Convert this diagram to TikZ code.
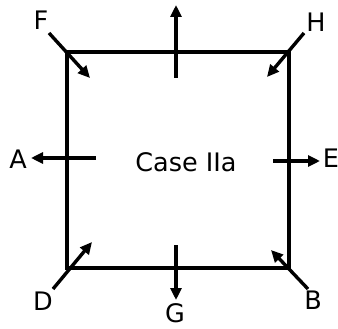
\documentclass[tikz,border=0pt]{standalone}
\usepackage{fontspec}
\setmainfont{DejaVu Sans}
\usetikzlibrary{arrows.meta}
\begin{document}
\begin{tikzpicture}[x=1pt,y=-1pt,
  box/.style={line width=4.6pt, line join=miter},
  arr/.style={line width=3.4pt, -{Triangle[length=12pt,width=11pt]}},
  lbl/.style={inner sep=0pt, font=\fontsize{25.5}{28}\selectfont}]
\useasboundingbox (0,0) rectangle (338,329);
\coordinate (TL) at (67,52);
\coordinate (TR) at (289,52);
\coordinate (BR) at (289,268);
\coordinate (BL) at (67,268);
\draw[box] (TL) -- (TR) -- (BR) -- (BL) -- cycle;
\node[lbl] (case) at (186,162) {Case IIa};
\node[lbl] (F) at (41,20) {F};
\node[lbl] (H) at (316,22) {H};
\node[lbl] (A) at (18,159) {A};
\node[lbl] (E) at (331,158) {E};
\node[lbl] (D) at (43,301) {D};
\node[lbl] (G) at (175,313) {G};
\node[lbl] (B) at (313,300) {B};
% arrow endpoints
\coordinate (f1) at (49,33);  \coordinate (f2) at (90,78);
\coordinate (h1) at (304,33); \coordinate (h2) at (267,77);
\coordinate (t1) at (176,78); \coordinate (t2) at (176,5);
\coordinate (a1) at (96,158); \coordinate (a2) at (31,158);
\coordinate (e1) at (273,161); \coordinate (e2) at (320,161);
\coordinate (d1) at (53,289); \coordinate (d2) at (92,242);
\coordinate (g1) at (176,245); \coordinate (g2) at (176,300);
\coordinate (b1) at (308,289); \coordinate (b2) at (271,250);
\draw[arr] (f1) -- (f2);
\draw[arr] (h1) -- (h2);
\draw[arr] (t1) -- (t2);
\draw[arr] (a1) -- (a2);
\draw[arr] (e1) -- (e2);
\draw[arr] (d1) -- (d2);
\draw[arr] (g1) -- (g2);
\draw[arr] (b1) -- (b2);
\end{tikzpicture}
\end{document}
